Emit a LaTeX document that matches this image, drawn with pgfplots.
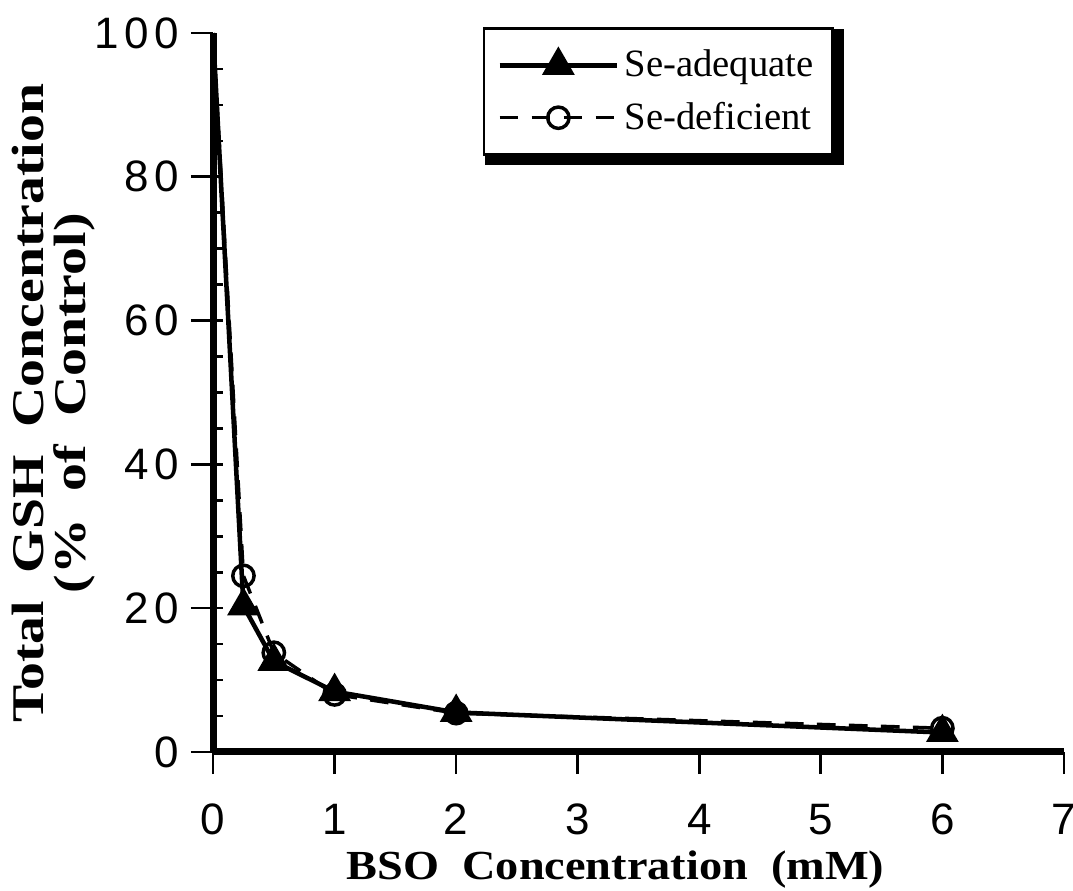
\documentclass[border=0pt]{standalone}
\usepackage{fontspec}
\setmainfont{Liberation Serif}
\newfontfamily\yticksf[LetterSpace=12]{Liberation Sans}
\newfontfamily\xticksf{Liberation Sans}
\usepackage{graphicx}
\usepackage{pgfplots}
\pgfplotsset{compat=1.18}
\begin{document}
\begin{tikzpicture}
\path[use as bounding box] (-79.9pt,-52.1pt) rectangle (322.5pt,282pt);
\begin{axis}[
  at={(0,0)}, anchor=south west,
  scale only axis,
  width=319.1pt, height=269.6pt,
  xmin=0, xmax=7, ymin=0, ymax=100,
  axis x line*=bottom, axis y line*=left,
  axis line style={line width=2.6pt, -},
  xtick={0,1,...,7},
  ytick={0,20,...,100},
  minor ytick={5,10,...,95},
  tick style={line width=1pt, black},
  major tick length=8.3pt,
  minor tick length=3.7pt,
  tick align=outside,
  every minor tick/.append style={xshift=3.7pt},
  /pgf/number format/assume math mode=true,
  xticklabel style={font=\fontsize{16.5}{18}\selectfont\xticksf, inner sep=1pt, yshift=-10pt},
  yticklabel style={font=\fontsize{16.5}{18}\selectfont\yticksf, xshift=-1pt},
  xlabel={\scalebox{1.12}[1]{\bfseries BSO\ \ Concentration\ \ (mM)}},
  xlabel style={font=\fontsize{15.5}{18}\selectfont, inner sep=1pt, at={(axis description cs:0.473,-0.178)}, anchor=base},
  ylabel={\begin{tabular}{c}\scalebox{1.23}[1]{\bfseries Total\ \ GSH\ \ Concentration}\\[-3pt]\scalebox{1.23}[1]{\bfseries (\%\ \ of\ \ Control)}\end{tabular}},
  ylabel style={font=\fontsize{17}{19}\selectfont, at={(axis description cs:-0.1863,0.485)}, anchor=center},
  legend style={at={(rel axis cs:0.317,1.008)}, anchor=north west, name=leg,
    draw=black, line width=1pt, inner xsep=5pt, inner ysep=6pt,
    fill=white,
    font=\fontsize{14.5}{17}\selectfont, row sep=4pt,
    cells={anchor=west}},
  legend image code/.code={
    \draw[#1, mark indices={2}] plot coordinates {(0pt,0pt) (22pt,0pt) (44pt,0pt)};
  },
  clip=false,
]
\addplot[black, line width=1.7pt, mark=triangle*, mark size=5.4pt, mark options={solid}, mark indices={2,3,4,5,6}]
  coordinates {(0,100) (0.25,20.3) (0.5,12.6) (1,8.4) (2,5.5) (6,2.7)};
\addlegendentry{Se-adequate}
\addplot[black, line width=1.3pt, dash pattern=on 7pt off 5pt, mark=o, mark size=4pt, mark options={solid, line width=1.3pt}, mark indices={2,3,4,5,6}]
  coordinates {(0,100) (0.25,24.5) (0.5,13.8) (1,8) (2,5.4) (6,3.3)};
\addlegendentry{Se-deficient}
\end{axis}
\draw[line width=4.5pt, line cap=rect] ([xshift=3pt,yshift=-1pt]leg.south west) -- ([xshift=1.5pt,yshift=-1pt]leg.south east) -- ([xshift=1.5pt,yshift=-3pt]leg.north east);
\end{tikzpicture}
\end{document}
